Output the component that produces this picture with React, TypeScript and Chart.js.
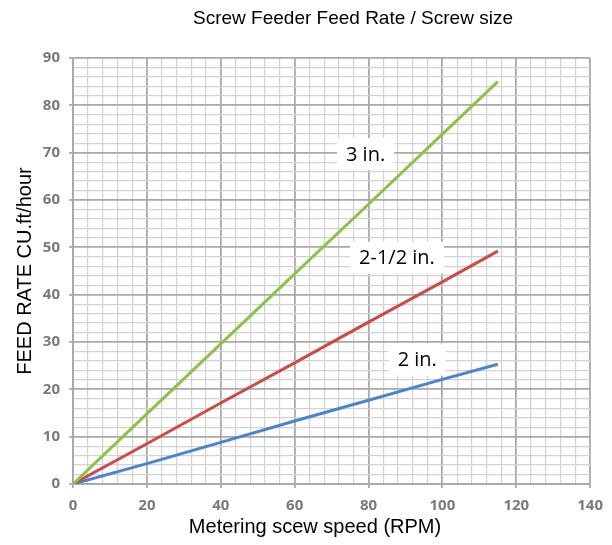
import { useEffect, useRef } from "react";
import { Chart, registerables } from "chart.js";

Chart.register(...registerables);

// ---- Data ----
const rpm = [0, 20, 40, 60, 80, 100, 115];
const rate3in = [0, 14.8, 29.6, 44.4, 59.1, 73.9, 85];
const rate2half = [0, 8.5, 17.1, 25.6, 34.2, 42.7, 49.2];
const rate2in = [0, 4.3, 8.8, 13.3, 17.7, 22.1, 25.3];

const seriesNames = ["3 in.", "2-1/2 in.", "2 in."];
const labelRpm = [79.2, 87.7, 93.2];
const labelRate = [69.7, 47.8, 26.3];

const xTickValues = [0, 20, 40, 60, 80, 100, 120, 140];
const yTickValues = [0, 10, 20, 30, 40, 50, 60, 70, 80, 90];

const chartTitle = "Screw Feeder Feed Rate / Screw size";
const xTitle = "Metering scew speed (RPM)";
const yTitle = "FEED RATE CU.ft/hour";

const MAJOR = "#a9a9a9";
const MINOR = "#d2d2d2";

const pts = (ys: number[]) => rpm.map((x, i) => ({ x, y: ys[i] }));

const textPlugin = {
  id: "textPlugin",
  afterDatasetsDraw(chart: any) {
    const { ctx, scales } = chart;
    ctx.save();
    ctx.font = "20px 'Open Sans'";
    ctx.textAlign = "center";
    ctx.textBaseline = "middle";
    seriesNames.forEach((t, i) => {
      const px = scales.x.getPixelForValue(labelRpm[i]);
      const py = scales.y.getPixelForValue(labelRate[i]);
      const w = ctx.measureText(t).width + 18;
      const h = 32;
      ctx.fillStyle = "#ffffff";
      ctx.fillRect(px - w / 2, py - h / 2, w, h);
      ctx.fillStyle = "#000000";
      ctx.fillText(t, px, py + 1);
    });
    ctx.restore();
  },
  afterDraw(chart: any) {
    const { ctx, chartArea } = chart;
    ctx.save();
    ctx.fillStyle = "#000000";
    ctx.textAlign = "center";
    ctx.textBaseline = "middle";
    ctx.font = "19px 'Liberation Sans'";
    ctx.fillText(chartTitle, 353, 19);
    ctx.font = "20px 'Liberation Sans'";
    ctx.fillText(xTitle, 315, 527);
    ctx.translate(25, (chartArea.top + chartArea.bottom) / 2);
    ctx.rotate(-Math.PI / 2);
    ctx.fillText(yTitle, 0, 0);
    ctx.restore();
  },
};

export default function App() {
  const ref = useRef<HTMLCanvasElement>(null);
  useEffect(() => {
    const isMajorX = (v: number) => xTickValues.includes(v);
    const isMajorY = (v: number) => yTickValues.includes(v);
    const tickFont = { family: "'Open Sans'", size: 15, weight: "bold" as const };
    const chart = new Chart(ref.current!, {
      type: "line",
      data: {
        datasets: [
          { label: seriesNames[0], data: pts(rate3in), borderColor: "#8cc24a", borderWidth: 3, pointRadius: 0, tension: 0 },
          { label: seriesNames[1], data: pts(rate2half), borderColor: "#cc4a47", borderWidth: 3, pointRadius: 0, tension: 0 },
          { label: seriesNames[2], data: pts(rate2in), borderColor: "#4a84cc", borderWidth: 3, pointRadius: 0, tension: 0 },
        ],
      },
      options: {
        animation: false,
        responsive: false,
        devicePixelRatio: 1,
        layout: { padding: { top: 58, right: 14, left: 0, bottom: 0 } },
        plugins: { legend: { display: false }, tooltip: { enabled: false }, title: { display: false } },
        scales: {
          x: {
            type: "linear",
            min: 0,
            max: 140,
            afterFit: (s: any) => { s.height = 61; },
            ticks: {
              stepSize: 4,
              autoSkip: false,
              maxRotation: 0,
              padding: 9,
              color: "#7a7a7a",
              font: tickFont,
              callback: (v: any) => (isMajorX(Number(v)) ? String(v) : ""),
            },
            grid: {
              color: (c: any) => (c.tick && isMajorX(c.tick.value) ? MAJOR : MINOR),
              lineWidth: (c: any) => (c.tick && isMajorX(c.tick.value) ? 1.8 : 1.2),
              tickLength: 4,
              tickColor: (c: any) => (c.tick && isMajorX(c.tick.value) ? MAJOR : "rgba(0,0,0,0)"),
            },
            border: { color: MAJOR, width: 1.8 },
          },
          y: {
            type: "linear",
            min: 0,
            max: 90,
            afterFit: (s: any) => { s.width = 73; },
            ticks: {
              stepSize: 2,
              autoSkip: false,
              padding: 9,
              color: "#7a7a7a",
              font: tickFont,
              callback: (v: any) => (isMajorY(Number(v)) ? String(v) : ""),
            },
            grid: {
              color: (c: any) => (c.tick && isMajorY(c.tick.value) ? MAJOR : MINOR),
              lineWidth: (c: any) => (c.tick && isMajorY(c.tick.value) ? 1.8 : 1.2),
              tickLength: 4,
              tickColor: (c: any) => (c.tick && isMajorY(c.tick.value) ? MAJOR : "rgba(0,0,0,0)"),
            },
            border: { color: MAJOR, width: 1.8 },
          },
        },
      },
      plugins: [textPlugin],
    });
    return () => chart.destroy();
  }, []);
  return (
    <div style={{ position: "fixed", left: 0, top: 0, width: 612, height: 545, background: "#fff" }}>
      <canvas ref={ref} width={612} height={545} style={{ display: "block" }} />
    </div>
  );
}
